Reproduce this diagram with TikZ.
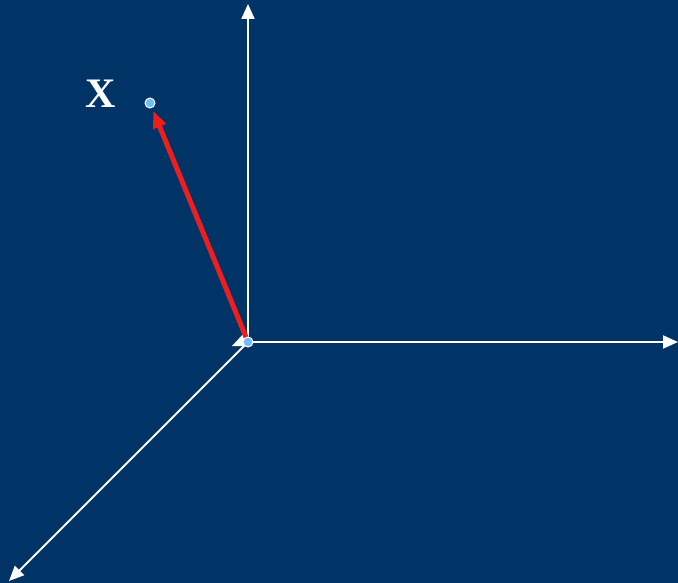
\documentclass[tikz,border=0pt]{standalone}
\usepackage{fontspec}
\setmainfont{Liberation Serif}
\usetikzlibrary{arrows.meta}
\definecolor{bgblue}{RGB}{0,52,102}
\definecolor{dotblue}{RGB}{110,190,250}
\definecolor{vecred}{RGB}{238,30,30}

\begin{document}
\begin{tikzpicture}[
  x=1pt, y=-1pt,
  axis/.style ={-{Triangle[length=15pt,width=13pt]}, line width=2pt, white},
  vec/.style  ={-{Triangle[length=17pt,width=13pt]}, line width=5pt, vecred},
  dot/.style  ={circle, fill=dotblue, draw=white, line width=1pt,
                minimum size=10pt, inner sep=0pt},
  lab/.style  ={font=\fontsize{42}{42}\selectfont\bfseries, text=white},
]

% ---------- Background ----------
\fill[bgblue] (0,0) rectangle (678,583);
\useasboundingbox (0,0) rectangle (678,583);

% ---------- Axes ----------
\coordinate (O)    at (248,342);
\coordinate (yend) at (248,4);
\coordinate (xend) at (678,342);
\coordinate (zend) at (9,581);

\draw[axis] (O) -- (yend);
\draw[axis] (O) -- (xend);
\draw[axis] (O) -- (zend);

% small marker left of the origin
\fill[white] (232,346) -- (245,332) -- (246,346) -- cycle;

% ---------- Vector ----------
\node[dot] (P) at (150,103) {};
\draw[vec, shorten >=3pt] (O) -- (P);
\node[dot] (Odot) at (O) {};

% ---------- Label ----------
\node[lab] (X) at (101,94) {X};

\end{tikzpicture}
\end{document}
